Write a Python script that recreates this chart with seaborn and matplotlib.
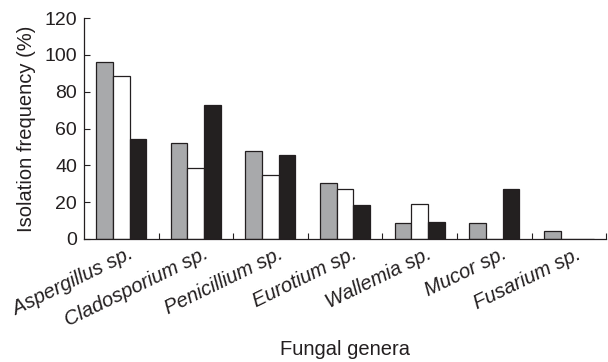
import matplotlib
matplotlib.use("Agg")
import matplotlib.pyplot as plt
import matplotlib.transforms as mtransforms
import seaborn as sns
import pandas as pd
from matplotlib.ticker import FixedLocator

genera = ["Aspergillus sp.", "Cladosporium sp.", "Penicillium sp.", "Eurotium sp.",
          "Wallemia sp.", "Mucor sp.", "Fusarium sp."]
series_names = ["Series 1", "Series 2", "Series 3"]
series1 = [96, 52, 48, 30.5, 8.5, 8.5, 4.2]
series2 = [88.5, 38.5, 34.5, 27, 19.2, 0, 0]
series3 = [54.5, 73, 45.5, 18.3, 9, 27.3, 0]
yticks = [0, 20, 40, 60, 80, 100, 120]
colors = ["#a7a9ac", "#ffffff", "#231f20"]

rows = []
for name, vals in zip(series_names, [series1, series2, series3]):
    for g, v in zip(genera, vals):
        rows.append({"genus": g, "series": name, "value": v})
df = pd.DataFrame(rows)

sns.set_theme(style="ticks")
plt.rcParams["font.family"] = ["Liberation Sans", "DejaVu Sans"]

fig = plt.figure(figsize=(6.08, 3.62), dpi=100)
ax = fig.add_axes([0.138, 0.34, 0.859, 0.61])

sns.barplot(data=df, x="genus", y="value", hue="series", order=genera,
            hue_order=series_names, palette=colors, width=0.67,
            edgecolor="#231f20", linewidth=0.9, ax=ax, legend=False)

ink = "#231f20"
ax.set_ylim(0, 120)
ax.set_xlim(-0.5, len(genera) - 0.5)
ax.set_yticks(yticks)
ax.tick_params(axis="y", direction="in", length=4, width=0.8, labelsize=14, pad=5, colors=ink)
ax.tick_params(axis="x", which="major", length=0, pad=4)
ax.xaxis.set_minor_locator(FixedLocator([i + 0.5 for i in range(len(genera))]))
ax.tick_params(axis="x", which="minor", direction="in", length=4, width=0.8, color=ink)

ax.set_xticks(range(len(genera)))
ax.set_xticklabels(genera, rotation=26, ha="right", rotation_mode="anchor",
                   fontsize=14.5, style="italic")
offset = mtransforms.ScaledTranslation(7 / 100, 0, fig.dpi_scale_trans)
for lab in ax.get_xticklabels():
    lab.set_color(ink)
    lab.set_transform(lab.get_transform() + offset)

ax.set_ylabel("Isolation frequency (%)", fontsize=14.5, color=ink, labelpad=6)
ax.set_xlabel("Fungal genera", fontsize=14.5, color=ink)
ax.xaxis.set_label_coords(0.5, -0.46)

sns.despine(ax=ax, top=True, right=True)
for s in ["left", "bottom"]:
    ax.spines[s].set_linewidth(0.9)
    ax.spines[s].set_color(ink)

fig.savefig("out.png", dpi=100)
